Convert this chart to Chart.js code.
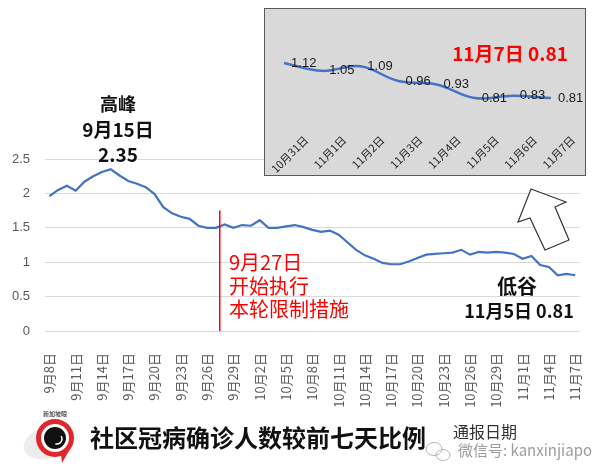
<!DOCTYPE html>
<html>
<head>
<meta charset="utf-8">
<script src="https://cdn.jsdelivr.net/npm/chart.js@4"></script>
<style>
  body { margin: 0; background: #fff; }
  #wrap { position: relative; width: 605px; height: 470px; overflow: hidden; }
  #main { position: absolute; left: 0; top: 0; }
  #insetBox {
    position: absolute; left: 264px; top: 8px; width: 320px; height: 166px;
    border: 1px solid #595959; background: #d9d9d9;
  }
</style>
</head>
<body>
<div id="wrap">
  <canvas id="main" width="605" height="470"></canvas>
  <div id="insetBox"><canvas id="inset" width="320" height="166"></canvas></div>
</div>
<script>
// ===== DATA =====
const dateLabels = [
  "9月8日", "9月9日", "9月10日", "9月11日", "9月12日", "9月13日", "9月14日", "9月15日",
  "9月16日", "9月17日", "9月18日", "9月19日", "9月20日", "9月21日", "9月22日", "9月23日",
  "9月24日", "9月25日", "9月26日", "9月27日", "9月28日", "9月29日", "9月30日",
  "10月1日", "10月2日", "10月3日", "10月4日", "10月5日", "10月6日", "10月7日", "10月8日",
  "10月9日", "10月10日", "10月11日", "10月12日", "10月13日", "10月14日", "10月15日",
  "10月16日", "10月17日", "10月18日", "10月19日", "10月20日", "10月21日", "10月22日",
  "10月23日", "10月24日", "10月25日", "10月26日", "10月27日", "10月28日", "10月29日",
  "10月30日", "10月31日",
  "11月1日", "11月2日", "11月3日", "11月4日", "11月5日", "11月6日", "11月7日"
];

const ratioValues = [
  1.96, 2.05, 2.11, 2.04, 2.17, 2.25, 2.31, 2.35,
  2.26, 2.18, 2.14, 2.09, 1.99, 1.80, 1.71, 1.66,
  1.63, 1.53, 1.50, 1.50, 1.55, 1.50, 1.54,
  1.53, 1.61, 1.50, 1.50, 1.52, 1.54, 1.51, 1.47,
  1.44, 1.46, 1.40, 1.29, 1.18, 1.10, 1.05,
  0.99, 0.97, 0.97, 1.01, 1.06, 1.11, 1.12,
  1.13, 1.14, 1.18, 1.11, 1.15, 1.14, 1.15,
  1.14, 1.12,
  1.05, 1.09, 0.96, 0.93, 0.81, 0.83, 0.81
];

const insetLabels = ["10月31日", "11月1日", "11月2日", "11月3日", "11月4日", "11月5日", "11月6日", "11月7日"];
const insetValues = [1.12, 1.05, 1.09, 0.96, 0.93, 0.81, 0.83, 0.81];

const yTicks = { min: 0, max: 2.5, step: 0.5 };
const tickEvery = 3;
const policyIndex = 19.4; // red marker, between 9月27日 and 9月28日

const CJK = '"Noto Sans CJK SC", "Noto Sans", sans-serif';
const BLUE = "#4472C4";


// ===== MAIN CHART ANNOTATIONS =====
function drawLogo(ctx) {
    const cx = 55, cy = 438;

    // grey splash
    ctx.fillStyle = "rgba(200,200,200,0.35)";
    ctx.beginPath();
    ctx.ellipse(cx - 6, cy + 4, 26, 16, -0.3, 0, Math.PI * 2);
    ctx.fill();

    // red ring with tail
    ctx.fillStyle = "#e3262b";
    ctx.beginPath();
    ctx.moveTo(cx + 6, cy + 16);
    ctx.lineTo(cx + 7, cy + 25);
    ctx.lineTo(cx + 15, cy + 11);
    ctx.closePath();
    ctx.fill();

    ctx.beginPath();
    ctx.arc(cx, cy, 19, 0, Math.PI * 2);
    ctx.fill();

    ctx.fillStyle = "#fff";
    ctx.beginPath();
    ctx.arc(cx, cy, 14, 0, Math.PI * 2);
    ctx.fill();

    ctx.fillStyle = "#111";
    ctx.beginPath();
    ctx.arc(cx, cy, 11, 0, Math.PI * 2);
    ctx.fill();

    ctx.strokeStyle = "#fff";
    ctx.lineWidth = 1.5;
    ctx.beginPath();
    ctx.arc(cx + 2, cy + 1, 5, -0.6, 1.9);
    ctx.stroke();

    ctx.fillStyle = "#555";
    ctx.font = "bold 6px " + CJK;
    ctx.textAlign = "center";
    ctx.textBaseline = "middle";
    ctx.fillText("新加坡眼", cx, cy - 24);
}

function drawWechatIcon(ctx) {
    ctx.strokeStyle = "#b5b5b5";
    ctx.lineWidth = 1;
    ctx.beginPath();
    ctx.ellipse(434, 449, 8, 6.5, 0, 0, Math.PI * 2);
    ctx.stroke();
    ctx.beginPath();
    ctx.ellipse(443, 455, 7, 5.5, 0, 0, Math.PI * 2);
    ctx.stroke();
}

const annotations = {
    id: "annotations",

    afterDraw(chart) {
        const ctx = chart.ctx;
        const xs = chart.scales.x;
        const ys = chart.scales.y;
        const px = Math.round(xs.getPixelForValue(policyIndex));
        const top = ys.getPixelForValue(1.75);
        const bottom = ys.getPixelForValue(0);

        ctx.save();

        // policy marker line
        ctx.fillStyle = "#ff0000";
        ctx.fillRect(px, top, 1.5, bottom - top);

        ctx.textBaseline = "middle";

        // peak label
        ctx.fillStyle = "#111";
        ctx.textAlign = "center";
        ctx.font = "bold 18px " + CJK;
        ctx.fillText("高峰", 118, 104);
        ctx.font = "bold 19px " + CJK;
        ctx.fillText("9月15日", 118, 130);
        ctx.fillText("2.35", 118, 155);

        // policy text
        ctx.fillStyle = "#ff0000";
        ctx.textAlign = "left";
        ctx.font = "20px " + CJK;
        const tx = px + 10;
        ctx.fillText("9月27日", tx, 262);
        ctx.fillText("开始执行", tx, 286);
        ctx.fillText("本轮限制措施", tx, 309);

        // trough label
        ctx.fillStyle = "#111";
        ctx.textAlign = "center";
        ctx.font = "bold 20px " + CJK;
        ctx.fillText("低谷", 517, 286);
        ctx.font = "bold 18px " + CJK;
        ctx.fillText("11月5日 0.81", 519, 311);

        // hollow arrow pointing to inset
        ctx.fillStyle = "#fff";
        ctx.strokeStyle = "#333";
        ctx.lineWidth = 1.2;
        ctx.beginPath();
        ctx.moveTo(531, 189);
        ctx.lineTo(566, 202);
        ctx.lineTo(555, 207);
        ctx.lineTo(569, 240);
        ctx.lineTo(545, 250);
        ctx.lineTo(530, 218);
        ctx.lineTo(518, 222);
        ctx.closePath();
        ctx.fill();
        ctx.stroke();

        // footer
        drawLogo(ctx);

        ctx.fillStyle = "#111";
        ctx.textAlign = "left";
        ctx.textBaseline = "middle";
        ctx.font = "bold 24px " + CJK;
        ctx.fillText("社区冠病确诊人数较前七天比例", 90, 438);

        ctx.fillStyle = "#333";
        ctx.font = "16px " + CJK;
        ctx.fillText("通报日期", 453, 432);

        drawWechatIcon(ctx);

        ctx.fillStyle = "#9c9c9c";
        ctx.font = "15px " + CJK;
        ctx.fillText("微信号: kanxinjiapo", 458, 450);

        ctx.restore();
    }
};


// ===== MAIN CHART =====
new Chart(document.getElementById("main"), {
    type: "line",
    data: {
        labels: dateLabels,
        datasets: [{
            data: ratioValues,
            borderColor: BLUE,
            borderWidth: 2.2,
            pointRadius: 0,
            tension: 0,
            fill: false
        }]
    },
    options: {
        responsive: false,
        animation: false,
        devicePixelRatio: 1,
        layout: {
            padding: { top: 159, right: 19, left: 0, bottom: 0 }
        },
        plugins: {
            legend: { display: false },
            tooltip: { enabled: false }
        },
        scales: {
            x: {
                type: "category",
                offset: true,
                grid: { display: false },
                border: { display: false },
                ticks: {
                    autoSkip: false,
                    minRotation: 90,
                    maxRotation: 90,
                    padding: 14,
                    color: "#595959",
                    font: { family: CJK, size: 13 },
                    callback: function (v, i) {
                        return i % tickEvery === 0 ? this.getLabelForValue(v) : "";
                    }
                },
                afterFit(scale) { scale.height = 139; }
            },
            y: {
                min: yTicks.min,
                max: yTicks.max,
                ticks: {
                    stepSize: yTicks.step,
                    padding: 15,
                    color: "#595959",
                    font: { family: '"Liberation Sans", sans-serif', size: 13 },
                    callback: v => String(Number(v.toFixed(2)))
                },
                grid: { color: "#d9d9d9", drawTicks: false },
                border: { display: false },
                afterFit(scale) { scale.width = 45; }
            }
        }
    },
    plugins: [annotations]
});


// ===== INSET CHART =====
const insetDecor = {
    id: "insetDecor",

    afterDatasetsDraw(chart) {
        const ctx = chart.ctx;
        const meta = chart.getDatasetMeta(0);
        const bottom = chart.chartArea.bottom;

        ctx.save();

        // value labels
        ctx.fillStyle = "#1a1a1a";
        ctx.font = '13px "Liberation Sans", sans-serif';
        ctx.textAlign = "left";
        ctx.textBaseline = "middle";
        meta.data.forEach((pt, i) => {
            ctx.fillText(insetValues[i].toFixed(2), pt.x + 7, pt.y);
        });

        // category labels, 45 degrees
        ctx.fillStyle = "#262626";
        ctx.font = "11px " + CJK;
        ctx.textAlign = "right";
        meta.data.forEach((pt, i) => {
            ctx.save();
            ctx.translate(pt.x + 22, bottom + 5);
            ctx.rotate(-Math.PI / 4);
            ctx.fillText(insetLabels[i], 0, 0);
            ctx.restore();
        });

        // headline
        const last = insetLabels.length - 1;
        ctx.fillStyle = "#ff0000";
        ctx.font = "bold 19px " + CJK;
        ctx.textAlign = "center";
        ctx.fillText(insetLabels[last] + " " + insetValues[last].toFixed(2), 245, 45);

        ctx.restore();
    }
};

new Chart(document.getElementById("inset"), {
    type: "line",
    data: {
        labels: insetLabels,
        datasets: [{
            data: insetValues,
            borderColor: BLUE,
            borderWidth: 2.5,
            pointRadius: 0,
            tension: 0.4,
            fill: false
        }]
    },
    options: {
        responsive: false,
        animation: false,
        devicePixelRatio: 1,
        layout: {
            padding: { top: 11, bottom: 42, left: 0, right: 15 }
        },
        plugins: {
            legend: { display: false },
            tooltip: { enabled: false }
        },
        scales: {
            x: { type: "category", offset: true, display: false },
            y: { min: 0.5, max: 1.5, display: false }
        }
    },
    plugins: [insetDecor]
});
</script>
</body>
</html>
